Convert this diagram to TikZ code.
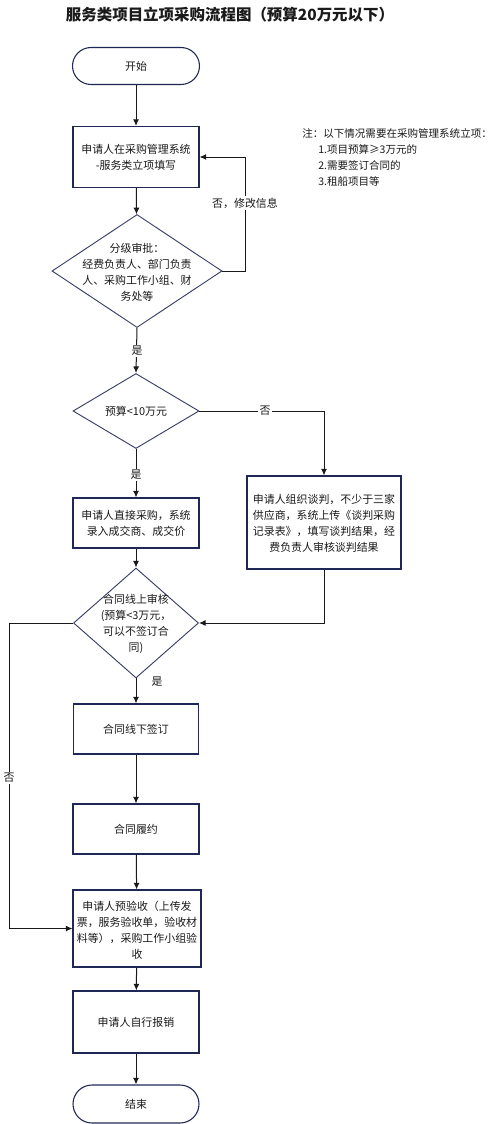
\documentclass[tikz,border=0pt]{standalone}
\usepackage{fontspec}
\setmainfont{Noto Sans CJK SC}
\usetikzlibrary{shapes.geometric,arrows.meta}
\definecolor{navy}{HTML}{1F2756}
\definecolor{dnavy}{HTML}{3A4068}
\definecolor{txt}{HTML}{1A1A1A}
\begin{document}
\begin{tikzpicture}[x=0.75pt,y=-0.75pt,
  every node/.style={text=txt},
  base/.style={draw=navy,line width=0.8pt,inner sep=0pt},
  box/.style 2 args={base,rectangle,minimum width={#1*0.75pt},minimum height={#2*0.75pt}},
  term/.style 2 args={base,rectangle,rounded corners={#2*0.375pt},minimum width={#1*0.75pt},minimum height={#2*0.75pt}},
  dia/.style 2 args={draw=dnavy,line width=0.7pt,diamond,inner sep=0pt,minimum width={#1*0.75pt},minimum height={#2*0.75pt}},
  txtn/.style={font=\fontsize{8.2pt}{12pt}\selectfont,align=center,inner sep=0pt},
  lab/.style={font=\fontsize{8.2pt}{12pt}\selectfont,inner sep=1pt,fill=white},
  conn/.style={draw=black!90,line width=0.75pt,-{Latex[length=5pt,width=4.5pt]}},
  plain/.style={draw=black!90,line width=0.75pt}
]
\useasboundingbox (0,0) rectangle (500,1124);
\fill[white] (0,0) rectangle (500,1124);

\node[font=\bfseries\fontsize{11.6pt}{14pt}\selectfont,inner sep=0pt] (title) at (230,15) {服务类项目立项采购流程图（预算20万元以下）};

\node[term={127}{37}] (start) at (136,66) {};
\node[txtn] (tstart) at (136,66) {开始};

\node[box={126}{61}] (b1) at (136,157) {};
\node[txtn] (tb1) at (136,157) {申请人在采购管理系统\\-服务类立项填写};

\node[dia={170}{113}] (d1) at (137,271) {};
\node[txtn] (td1) at (137,272) {分级审批：\\经费负责人、部门负责\\人、采购工作小组、财\\务处等};

\node[dia={126}{75}] (d2) at (136,411) {};
\node[txtn] (td2) at (136,411) {预算<10万元};

\node[box={126}{50}] (b2) at (136,523) {};
\node[txtn] (tb2) at (136,523) {申请人直接采购，系统\\录入成交商、成交价};

\node[box={154}{93}] (b3) at (324,522.5) {};
\node[txtn] (tb3) at (324,523) {申请人组织谈判，不少于三家\\供应商，系统上传《谈判采购\\记录表》，填写谈判结果，经\\费负责人审核谈判结果};

\node[dia={125}{110}] (d3) at (136,623) {};
\node[txtn] (td3) at (136,624) {合同线上审核\\(预算<3万元，\\可以不签订合\\同)};

\node[box={125}{50}] (b4) at (136,729) {};
\node[txtn] (tb4) at (136,729) {合同线下签订};

\node[box={126}{50}] (b5) at (136,829) {};
\node[txtn] (tb5) at (136,829) {合同履约};

\node[box={128}{77}] (b6) at (137,928.5) {};
\node[txtn] (tb6) at (137,930) {申请人预验收（上传发\\票，服务验收单，验收材\\料等），采购工作小组验\\收};

\node[box={126}{62}] (b7) at (136,1022) {};
\node[txtn] (tb7) at (136,1022) {申请人自行报销};

\node[term={126}{38}] (end) at (136,1104) {};
\node[txtn] (tend) at (136,1104) {结束};

\node[font=\fontsize{7.9pt}{12pt}\selectfont,align=left,anchor=north west,inner sep=0pt] (note) at (302,128)
 {注：以下情况需要在采购管理系统立项：\\\hspace*{12pt}1.项目预算≥3万元的\\\hspace*{12pt}2.需要签订合同的\\\hspace*{12pt}3.租船项目等};

% connectors
\draw[conn] (start) -- (b1);
\draw[conn] (b1) -- (d1);
\coordinate (c1) at (245,271);
\draw[conn] (d1.east) -- (c1) |- (b1.east);
\node[lab] (l1) at (245,203) {否，修改信息};

\draw[conn] (d1.south) -- (d2.north);
\node[lab] (l2) at (137,351) {是};

\draw[conn] (d2.east) -| (b3.north);
\node[lab] (l3) at (265,411) {否};

\draw[conn] (d2.south) -- (b2.north);
\node[lab] (l4) at (136,475) {是};

\draw[conn] (b2) -- (d3);
\draw[conn] (b3.south) |- (d3.east);

\draw[conn] (d3.south) -- (b4.north);
\node[font=\fontsize{8.2pt}{12pt}\selectfont,inner sep=0pt] (l5) at (157,682) {是};

\coordinate (c2) at (9,623);
\draw[conn] (d3.west) -- (c2) |- (b6.west);
\node[lab] (l6) at (9,778) {否};

\draw[conn] (b4) -- (b5);
\draw[conn] (b5) -- (b6);
\draw[conn] (b6) -- (b7);
\draw[conn] (b7) -- (end);
\end{tikzpicture}
\end{document}
